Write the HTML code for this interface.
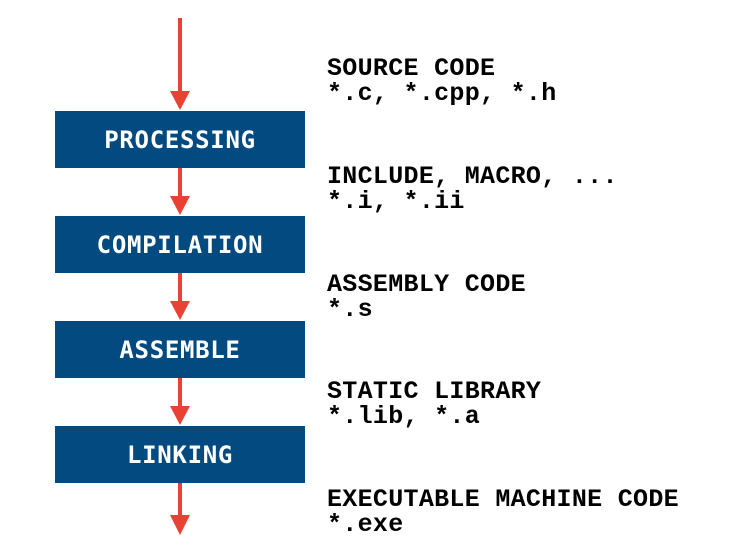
<!DOCTYPE html>
<html><head><style>
body{margin:0;width:729px;height:547px;background:#fff;position:relative;overflow:hidden}
.box{position:absolute;left:55px;width:250px;height:57px;background:#034a80;color:#fff;font:bold 24px "DejaVu Sans Mono",monospace;display:flex;align-items:center;justify-content:center;letter-spacing:0.7px}
.t{position:absolute;left:327px;font:bold 25px/25px "Liberation Mono",monospace;color:#000;white-space:pre;letter-spacing:0.3px}
</style></head><body>
<svg width="729" height="547" style="position:absolute;left:0;top:0">
<g fill="#e94234" stroke="#e94234">
<line x1="180" y1="18" x2="180" y2="95" stroke-width="4"/><polygon points="170,91 190,91 180,110" stroke="none"/>
<line x1="180" y1="168" x2="180" y2="200" stroke-width="4"/><polygon points="170,196 190,196 180,215" stroke="none"/>
<line x1="180" y1="273" x2="180" y2="305" stroke-width="4"/><polygon points="170,301 190,301 180,320" stroke="none"/>
<line x1="180" y1="378" x2="180" y2="410" stroke-width="4"/><polygon points="170,406 190,406 180,425" stroke="none"/>
<line x1="180" y1="483" x2="180" y2="520" stroke-width="4"/><polygon points="170,515 190,515 180,535" stroke="none"/>
</g></svg>
<div class="box" style="top:111px">PROCESSING</div>
<div class="box" style="top:216px">COMPILATION</div>
<div class="box" style="top:321px">ASSEMBLE</div>
<div class="box" style="top:426px">LINKING</div>
<div class="t" style="top:56px">SOURCE CODE
*.c, *.cpp, *.h</div>
<div class="t" style="top:164px">INCLUDE, MACRO, ...
*.i, *.ii</div>
<div class="t" style="top:272px">ASSEMBLY CODE
*.s</div>
<div class="t" style="top:379px">STATIC LIBRARY
*.lib, *.a</div>
<div class="t" style="top:487px">EXECUTABLE MACHINE CODE
*.exe</div>
</body></html>
